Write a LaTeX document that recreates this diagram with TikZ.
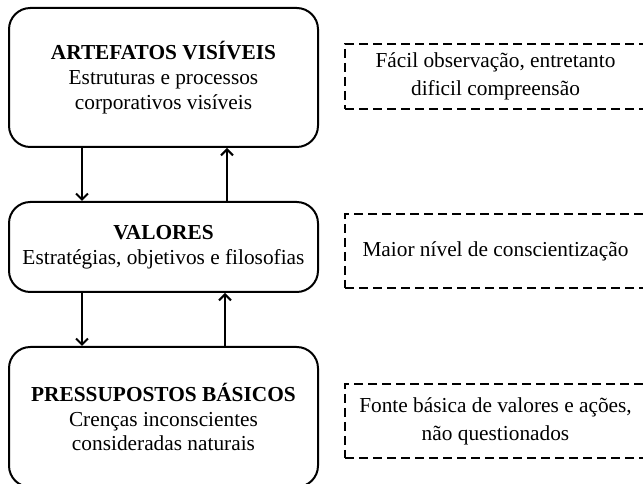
\documentclass[tikz,border=0pt]{standalone}
\usepackage{fontspec}
\setmainfont{Liberation Serif}
\usetikzlibrary{arrows.meta}

\tikzset{
  level/.style={draw, line width=1.5pt, rounded corners=16pt, align=center,
    minimum width=231.75pt, inner sep=0pt,
    font=\fontsize{16}{18.5}\selectfont},
  note/.style={draw, line width=1.5pt, dash pattern=on 6.75pt off 3.75pt,
    align=center, minimum width=225.75pt, inner sep=0pt,
    font=\fontsize{16}{21}\selectfont},
  flow/.style={line width=1.5pt, -{Straight Barb[length=4.5pt,width=9pt,line width=1.5pt]}}
}

\begin{document}
\begin{tikzpicture}[x=0.75pt, y=-0.75pt]
  \useasboundingbox (0,0) rectangle (643,484);
  \clip (0,0) rectangle (643,484);

  % the three levels
  \node[level, minimum height=104.25pt] (art) at (163.5,77.5)
    {\textbf{ARTEFATOS VISÍVEIS}\\Estruturas e processos\\corporativos visíveis};
  \node[level, minimum height=67.5pt] (val) at (163.5,247)
    {\textbf{VALORES}\\Estratégias, objetivos e filosofias};
  \node[level, minimum height=105pt] (pre) at (163.5,417)
    {\textbf{PRESSUPOSTOS BÁSICOS}\\Crenças inconscientes\\consideradas naturais};

  % side notes
  \node[note, minimum height=48.75pt] (na) at (495.5,76.5)
    {Fácil observação, entretanto\\dificil compreensão};
  \node[note, minimum height=55.5pt] (nb) at (495.5,251)
    {Maior nível de conscientização};
  \node[note, minimum height=55.5pt] (nc) at (495.5,421)
    {Fonte básica de valores e ações,\\não questionados};

  % arrows between levels
  \draw[flow] (art.south -| 82,0) -- (val.north -| 82,0);
  \draw[flow] (val.north -| 227,0) -- (art.south -| 227,0);
  \draw[flow] (val.south -| 82,0) -- (pre.north -| 82,0);
  \draw[flow] (pre.north -| 225,0) -- (val.south -| 225,0);
\end{tikzpicture}
\end{document}
